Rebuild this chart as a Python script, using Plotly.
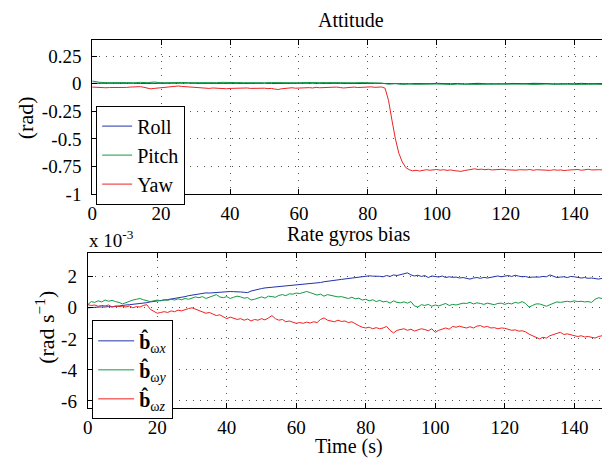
import plotly.graph_objects as go

# ---------------- data ----------------
# Attitude (rad)
t_fine = list(range(0, 149))          # 1 s samples
t_coarse = list(range(0, 149, 2))     # 2 s samples

roll = [0.004, 0.006, 0.003, 0.005, 0.004, 0.006, 0.005, 0.003, 0.004, 0.006,
        0.005, 0.004, 0.003, 0.005, 0.006, 0.004, 0.005, 0.003, 0.004, 0.005,
        0.006, 0.004, 0.003, 0.005, 0.004, 0.005, 0.003, 0.004, 0.006, 0.005,
        0.004, 0.003, 0.005, 0.004, 0.006, 0.005, 0.004, 0.003, 0.005, 0.004,
        0.003, 0.004, 0.002, 0.000, 0.003, -0.002, 0.000, 0.002, -0.001, 0.001,
        0.004, -0.001, 0.000, 0.003, -0.002, 0.001, 0.004, 0.000, -0.001, 0.002,
        0.000, 0.003, -0.001, 0.001, 0.004, 0.000, 0.002, -0.001, 0.003, 0.001,
        0.000, 0.004, 0.001, -0.001, 0.002]

pitch = [0.025, 0.014, 0.010, 0.012, 0.008, 0.011, 0.009, 0.013, 0.010, 0.016,
         0.009, 0.011, 0.008, 0.012, 0.010, 0.009, 0.011, 0.008, 0.010, 0.013,
         0.009, 0.011, 0.010, 0.008, 0.012, 0.009, 0.011, 0.010, 0.008, 0.011,
         0.009, 0.012, 0.008, 0.010, 0.011, 0.009, 0.008, 0.010, 0.009, 0.011,
         0.008, 0.010, 0.006, -0.004, 0.002, -0.006, -0.002, -0.005, -0.003, -0.006,
         -0.002, -0.004, -0.007, -0.003, -0.005, -0.002, -0.006, -0.004, -0.003, -0.005,
         -0.002, -0.006, -0.004, -0.003, -0.007, -0.004, -0.002, -0.005, -0.003, -0.004,
         -0.006, -0.003, -0.005, -0.004, -0.006]

yaw = [-0.030, -0.032, -0.035, -0.033, -0.036, -0.034, -0.035, -0.032, -0.034, -0.036,
       -0.033, -0.030, -0.028, -0.030, -0.026, -0.032, -0.040, -0.046, -0.042, -0.038,
       -0.036, -0.032, -0.028, -0.025, -0.022, -0.020, -0.024, -0.026, -0.030, -0.032,
       -0.035, -0.038, -0.036, -0.040, -0.042, -0.038, -0.040, -0.043, -0.040, -0.045,
       -0.042, -0.040, -0.038, -0.040, -0.036, -0.038, -0.042, -0.040, -0.038, -0.042,
       -0.040, -0.044, -0.042, -0.048, -0.052, -0.045, -0.040, -0.038, -0.036, -0.040,
       -0.038, -0.036, -0.040, -0.035, -0.038, -0.032, -0.036, -0.034, -0.030, -0.028,
       -0.032, -0.030, -0.034, -0.038, -0.035, -0.032, -0.030, -0.034, -0.031, -0.028,
       -0.030, -0.028, -0.032, -0.030, -0.029, -0.040, -0.150, -0.330, -0.500, -0.630,
       -0.710, -0.760, -0.780, -0.790, -0.785, -0.792, -0.786, -0.780, -0.785, -0.782,
       -0.778, -0.784, -0.780, -0.786, -0.782, -0.788, -0.792, -0.795, -0.788, -0.782,
       -0.776, -0.772, -0.778, -0.775, -0.780, -0.776, -0.782, -0.778, -0.780, -0.776,
       -0.780, -0.782, -0.778, -0.785, -0.780, -0.784, -0.782, -0.778, -0.785, -0.780,
       -0.782, -0.778, -0.784, -0.786, -0.780, -0.785, -0.782, -0.788, -0.784, -0.780,
       -0.782, -0.778, -0.785, -0.780, -0.776, -0.782, -0.778, -0.780, -0.782]

# Rate gyros bias (x 1e-3 rad/s)
bias_x = [0.00, 0.02, 0.05, 0.03, 0.06, 0.05, 0.08, 0.06, 0.10, 0.12,
          0.15, 0.18, 0.20, 0.22, 0.25, 0.28, 0.30, 0.33, 0.38, 0.42,
          0.45, 0.48, 0.50, 0.53, 0.56, 0.60, 0.64, 0.68, 0.72, 0.78,
          0.82, 0.86, 0.90, 0.94, 0.96, 0.95, 0.97, 1.00, 1.01, 1.02,
          1.03, 1.05, 1.04, 1.05, 1.02, 1.00, 0.98, 1.08, 1.15, 1.20,
          1.24, 1.28, 1.30, 1.32, 1.35, 1.38, 1.40, 1.41, 1.43, 1.45,
          1.46, 1.50, 1.52, 1.55, 1.58, 1.60, 1.62, 1.63, 1.68, 1.72,
          1.75, 1.78, 1.80, 1.83, 1.86, 1.90, 1.92, 1.95, 1.98, 2.02,
          2.05, 2.06, 2.04, 2.05, 2.03, 2.00, 2.08, 2.02, 2.12, 2.08,
          2.15, 2.20, 2.25, 2.12, 2.05, 2.10, 2.02, 2.08, 1.95, 2.05,
          2.02, 1.98, 2.05, 1.95, 2.00, 1.96, 1.98, 1.92, 1.95, 1.90,
          1.85, 1.92, 1.95, 1.90, 1.96, 1.92, 1.98, 2.02, 2.05, 2.00,
          2.05, 2.08, 2.02, 2.10, 2.04, 2.00, 2.02, 1.95, 1.98, 1.96,
          1.98, 2.02, 2.00, 2.12, 2.05, 1.95, 1.98, 2.00, 1.95, 2.02,
          2.00, 1.96, 1.92, 1.95, 1.90, 1.92, 1.88, 1.85, 1.90]

bias_y = [0.20, 0.40, 0.35, 0.45, 0.38, 0.50, 0.42, 0.48, 0.40, 0.35,
          0.25, 0.35, 0.45, 0.50, 0.55, 0.60, 0.52, 0.48, 0.40, 0.45,
          0.50, 0.45, 0.52, 0.48, 0.55, 0.50, 0.58, 0.52, 0.60, 0.55,
          0.62, 0.70, 0.65, 0.72, 0.60, 0.68, 0.80, 0.85, 0.70, 0.65,
          0.72, 0.60, 0.68, 0.75, 0.70, 0.62, 0.66, 0.50, 0.55, 0.65,
          0.70, 0.62, 0.75, 0.72, 0.68, 0.80, 0.85, 0.78, 0.90, 0.88,
          0.95, 0.92, 1.00, 1.05, 0.98, 0.90, 0.82, 0.88, 0.75, 0.85,
          0.80, 0.78, 0.70, 0.72, 0.65, 0.60, 0.68, 0.58, 0.62, 0.50,
          0.55, 0.45, 0.52, 0.40, 0.48, 0.38, 0.42, 0.30, 0.45, 0.35,
          0.32, 0.38, 0.30, 0.40, 0.12, 0.05, 0.20, 0.15, 0.22, 0.10,
          0.18, 0.12, 0.20, 0.28, 0.15, 0.22, 0.18, 0.25, 0.30, 0.28,
          0.35, 0.25, 0.32, 0.28, 0.22, 0.30, 0.25, 0.20, 0.28, 0.30,
          0.22, 0.30, 0.25, 0.35, 0.30, 0.40, 0.28, 0.05, 0.15, 0.25,
          0.25, 0.18, 0.10, 0.20, 0.30, 0.38, 0.35, 0.40, 0.42, 0.38,
          0.45, 0.40, 0.42, 0.38, 0.40, 0.35, 0.55, 0.65, 0.60]

bias_z = [0.20, 0.15, 0.18, 0.10, 0.15, 0.12, 0.18, 0.05, 0.12, 0.08,
          0.10, 0.05, 0.12, 0.00, 0.08, 0.05, 0.15, 0.20, -0.10, -0.25,
          -0.35, -0.30, -0.25, -0.30, -0.20, -0.25, -0.15, -0.20, -0.10, -0.05,
          0.00, -0.10, -0.20, -0.25, -0.35, -0.30, -0.40, -0.50, -0.45, -0.55,
          -0.70, -0.60, -0.65, -0.75, -0.70, -0.80, -0.72, -0.85, -0.75, -0.80,
          -0.70, -0.78, -0.65, -0.50, -0.70, -0.80, -0.75, -0.90, -0.85, -0.95,
          -1.00, -0.95, -1.00, -0.92, -0.98, -0.90, -0.95, -0.75, -0.65, -0.80,
          -0.85, -0.90, -0.80, -0.88, -0.85, -0.95, -0.90, -1.05, -1.15, -1.25,
          -1.30, -1.25, -1.35, -1.28, -1.35, -1.30, -1.20, -1.45, -1.62, -1.45,
          -1.40, -1.35, -1.45, -1.38, -1.50, -1.42, -1.35, -1.40, -1.48, -1.35,
          -1.58, -1.45, -1.35, -1.30, -1.38, -1.20, -1.25, -1.18, -1.25, -1.30,
          -1.22, -1.30, -1.18, -1.15, -1.25, -1.20, -1.30, -1.28, -1.35, -1.30,
          -1.32, -1.40, -1.45, -1.42, -1.50, -1.48, -1.55, -1.70, -1.80, -1.95,
          -2.00, -1.90, -1.95, -1.80, -1.70, -1.65, -1.58, -1.72, -1.68, -1.75,
          -1.78, -1.85, -1.80, -1.88, -1.85, -1.92, -1.95, -1.85, -1.80]

x_ticks = [0, 20, 40, 60, 80, 100, 120, 140]
att_ticks = [-1, -0.75, -0.5, -0.25, 0, 0.25]
att_tick_labels = ["-1", "-0.75", "-0.5", "-0.25", "0", "0.25"]
bias_ticks = [-6, -4, -2, 0, 2]
bias_tick_labels = ["-6", "-4", "-2", "0", "2"]

# ---------------- styling ----------------
OFF = 8                     # page body margin in the browser
W, H = 602, 460             # figure size (page is 610x468)
FONT = "'Times New Roman', 'Liberation Serif', Tinos, 'DejaVu Serif', 'Noto Serif', serif"
BLUE, GREEN, RED = "#2233aa", "#119944", "#ee2222"


def px(x):  # page pixel -> paper x
    return (x - OFF) / W


def py(y):  # page pixel -> paper y
    return 1 - (y - OFF) / H


fig = go.Figure()
fig.add_trace(go.Scatter(x=t_coarse, y=roll, mode="lines", name="Roll",
                         line=dict(color=BLUE, width=1), xaxis="x", yaxis="y", legend="legend"))
fig.add_trace(go.Scatter(x=t_coarse, y=pitch, mode="lines", name="Pitch",
                         line=dict(color=GREEN, width=1), xaxis="x", yaxis="y", legend="legend"))
fig.add_trace(go.Scatter(x=t_fine, y=yaw, mode="lines", name="Yaw",
                         line=dict(color=RED, width=1), xaxis="x", yaxis="y", legend="legend"))

fig.add_trace(go.Scatter(x=t_fine, y=bias_x, mode="lines", name="<b>b̂</b><sub>ω<i>x</i></sub>",
                         line=dict(color=BLUE, width=1), xaxis="x2", yaxis="y2", legend="legend2"))
fig.add_trace(go.Scatter(x=t_fine, y=bias_y, mode="lines", name="<b>b̂</b><sub>ω<i>y</i></sub>",
                         line=dict(color=GREEN, width=1), xaxis="x2", yaxis="y2", legend="legend2"))
fig.add_trace(go.Scatter(x=t_fine, y=bias_z, mode="lines", name="<b>b̂</b><sub>ω<i>z</i></sub>",
                         line=dict(color=RED, width=1), xaxis="x2", yaxis="y2", legend="legend2"))

axis_common = dict(
    showline=True, linecolor="black", linewidth=1, mirror="ticks",
    ticks="inside", ticklen=5, tickcolor="black", tickwidth=1,
    showgrid=True, gridcolor="#555555", griddash="1px,6px", gridwidth=1,
    zeroline=False, tickfont=dict(family=FONT, size=19, color="black"),
)

fig.update_layout(
    width=W, height=H,
    margin=dict(l=0, r=0, t=0, b=0),
    paper_bgcolor="white", plot_bgcolor="white",
    font=dict(family=FONT, size=19, color="black"),
    xaxis=dict(domain=[px(88), 1.0], range=[0, 150], tickvals=x_ticks,
               anchor="y", ticklabelstandoff=2, **axis_common),
    yaxis=dict(domain=[py(198.5), py(40.5)], range=[-1, 0.4],
               tickvals=att_ticks, ticktext=att_tick_labels, anchor="x",
               ticklabelstandoff=6, **axis_common),
    xaxis2=dict(domain=[px(83.5), 1.0], range=[0, 150], tickvals=x_ticks,
                anchor="y2", ticklabelstandoff=2, **axis_common),
    yaxis2=dict(domain=[py(417.7), py(259.5)], range=[-6.45, 3.5],
                tickvals=bias_ticks, ticktext=bias_tick_labels, anchor="x2",
                ticklabelstandoff=6, **axis_common),
    legend=dict(x=px(92), y=py(108), xanchor="left", yanchor="top",
                bgcolor="white", bordercolor="black", borderwidth=1,
                font=dict(family=FONT, size=20, color="black"), tracegroupgap=0),
    legend2=dict(x=px(88), y=py(328), xanchor="left", yanchor="top",
                 bgcolor="white", bordercolor="black", borderwidth=1,
                 font=dict(family=FONT, size=20, color="black"), tracegroupgap=0,
                 itemwidth=36),
    showlegend=True,
)

annotations = [
    dict(text="Attitude", x=px(349), y=py(20), xref="paper", yref="paper",
         xanchor="center", yanchor="middle", showarrow=False,
         font=dict(family=FONT, size=20)),
    dict(text="Rate gyros bias", x=px(347), y=py(240), xref="paper", yref="paper",
         xanchor="center", yanchor="middle", showarrow=False,
         font=dict(family=FONT, size=20)),
    dict(text="x 10<sup>-3</sup>", x=px(83), y=py(245), xref="paper", yref="paper",
         xanchor="left", yanchor="middle", showarrow=False,
         font=dict(family=FONT, size=19)),
    dict(text="Time (s)", x=px(347), y=py(457), xref="paper", yref="paper",
         xanchor="center", yanchor="middle", showarrow=False,
         font=dict(family=FONT, size=20)),
    dict(text="(rad)", x=px(20), y=py(120), xref="paper", yref="paper",
         xanchor="center", yanchor="middle", showarrow=False, textangle=-90,
         font=dict(family=FONT, size=22)),
    dict(text="(rad s<sup>−1</sup>)", x=px(40), y=py(335), xref="paper", yref="paper",
         xanchor="center", yanchor="middle", showarrow=False, textangle=-90,
         font=dict(family=FONT, size=22)),
]
fig.update_layout(annotations=annotations)

fig.write_html("out.html")
